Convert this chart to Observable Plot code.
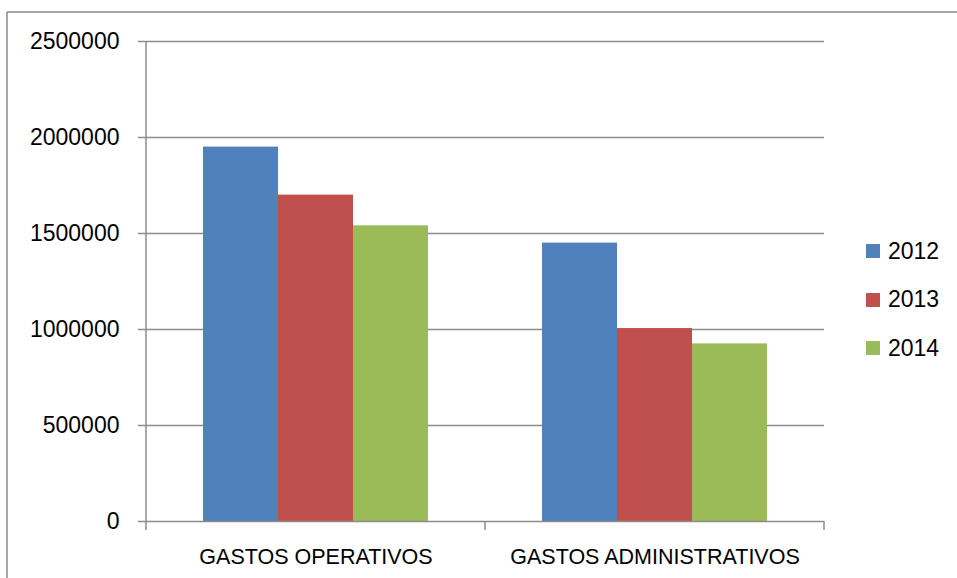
<!DOCTYPE html>
<html><head><meta charset="utf-8">
<script src="https://cdn.jsdelivr.net/npm/d3@7"></script>
<script src="https://cdn.jsdelivr.net/npm/@observablehq/plot@0.6"></script>
<style>
body{margin:0;background:#fff;}
#wrap{position:relative;width:957px;height:578px;overflow:hidden;background:#fff;}
#legend{position:absolute;left:866px;top:227px;font-family:"Liberation Sans",Arial,sans-serif;font-size:23px;color:#000;}
.item{display:flex;align-items:center;height:48.5px;}
.sw{width:14px;height:14px;margin-right:8px;}
</style></head><body><div id="wrap"></div><script>
const categories = ["GASTOS OPERATIVOS", "GASTOS ADMINISTRATIVOS"];
const years = ["2012", "2013", "2014"];
const values2012 = [1950000, 1450000];
const values2013 = [1700000, 1005000];
const values2014 = [1540000, 925000];
const colors = ["#4F81BD", "#C0504D", "#9BBB59"];
const yTicks = [0, 500000, 1000000, 1500000, 2000000, 2500000];

const series = [values2012, values2013, values2014];
const data = [];
categories.forEach((c, i) => {
  series.forEach((arr, j) => data.push({category: c, year: years[j], value: arr[i]}));
});

const gridColor = "#8c8c8c";

const chart = Plot.plot({
  width: 957, height: 578,
  marginLeft: 145, marginRight: 133, marginTop: 41, marginBottom: 57,
  style: {fontFamily: "'Liberation Sans', Arial, sans-serif", fontSize: "22px", color: "#000", background: "#fff"},
  fx: {domain: categories, padding: 0, label: null, axis: null},
  x: {domain: years, paddingInner: 0, paddingOuter: 0.75, axis: null},
  y: {domain: [0, 2500000], label: null, axis: null},
  color: {domain: years, range: colors},
  marks: [
    Plot.ruleY(yTicks.filter(d => d !== 0), {stroke: gridColor, strokeWidth: 1.5}),
    Plot.barY(data, {fx: "category", x: "year", y: "value", fill: "year", inset: 0}),
    Plot.ruleY([0], {stroke: gridColor, strokeWidth: 1.5}),
    Plot.axisY({ticks: yTicks, tickSize: 8, tickPadding: 19, tickFormat: d => String(d), stroke: gridColor, strokeWidth: 1.5, label: null, fontSize: 23, fill: "#000"}),
    Plot.axisFx({anchor: "bottom", tickSize: 0, tickPadding: 27, label: null, fontSize: 21.5, fill: "#000"})
  ]
});

const svg = d3.select(chart);
const fx = chart.scale("fx");
const y = chart.scale("y");
const y0 = y.apply(0);
const yTop = y.apply(yTicks[yTicks.length - 1]);
const g = svg.append("g").attr("stroke", gridColor).attr("stroke-width", 1.5);
const xStart = fx.apply(categories[0]);
g.append("line").attr("x1", xStart).attr("x2", xStart).attr("y1", yTop).attr("y2", y0 + 9);
categories.forEach(c => {
  const xe = fx.apply(c) + fx.bandwidth;
  g.append("line").attr("x1", xe).attr("x2", xe).attr("y1", y0).attr("y2", y0 + 9);
});
// outer chart border (top and left)
const b = svg.append("g").attr("stroke", "#8a8a8a").attr("stroke-width", 1.5);
b.append("line").attr("x1", 7).attr("x2", 957).attr("y1", 12).attr("y2", 12);
b.append("line").attr("x1", 7).attr("x2", 7).attr("y1", 12).attr("y2", 578);

const wrap = document.getElementById("wrap");
wrap.appendChild(chart);
const legend = document.createElement("div");
legend.id = "legend";
years.forEach((yr, i) => {
  const it = document.createElement("div");
  it.className = "item";
  const sw = document.createElement("div");
  sw.className = "sw";
  sw.style.background = colors[i];
  const t = document.createElement("span");
  t.textContent = yr;
  it.appendChild(sw); it.appendChild(t);
  legend.appendChild(it);
});
wrap.appendChild(legend);
</script></body></html>
